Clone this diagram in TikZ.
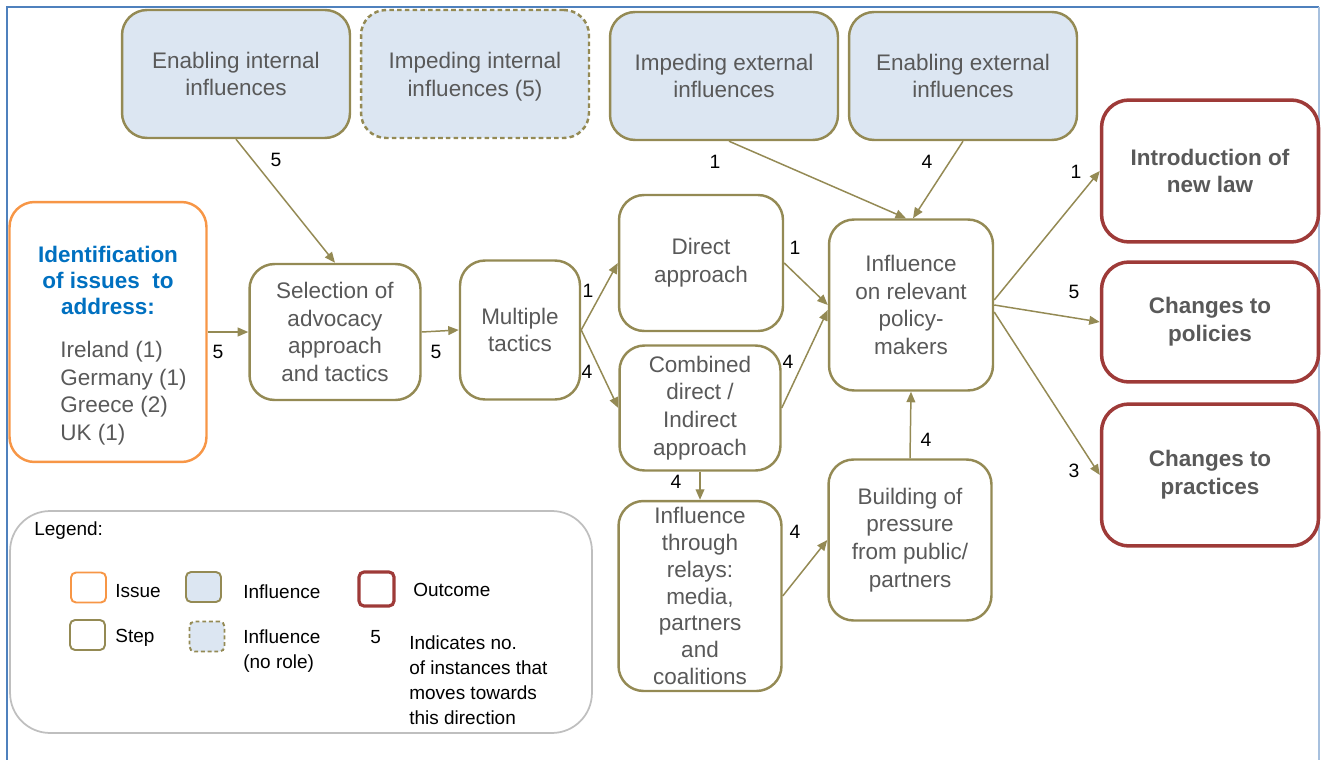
\documentclass[tikz,border=0pt]{standalone}
\usepackage{fontspec}
\setmainfont{Liberation Sans}
\usetikzlibrary{arrows.meta}

\definecolor{stepolive}{HTML}{948A54}
\definecolor{inflblue}{HTML}{DCE6F2}
\definecolor{outred}{HTML}{9E3A38}
\definecolor{issueorange}{HTML}{F79646}
\definecolor{titleblue}{HTML}{0070C0}
\definecolor{txtgray}{HTML}{595959}
\definecolor{framebl}{HTML}{4F81BD}
\definecolor{leggray}{HTML}{BFBFBF}

\newcommand{\boxfont}{\fontsize{12.8}{15.8}\selectfont}
\newcommand{\numfont}{\fontsize{11}{13}\selectfont}
\newcommand{\legfont}{\fontsize{10.8}{14.2}\selectfont}

\tikzset{
  box/.style={draw=stepolive, line width=1.4pt, rounded corners=0.5cm, align=center,
    font=\boxfont, text=txtgray, inner sep=1pt},
  stepbox/.style={box, fill=white},
  inflbox/.style={box, fill=inflblue, minimum width=4.56cm, minimum height=2.56cm},
  noroleinfl/.style={inflbox, dash pattern=on 2.6pt off 1.8pt},
  outbox/.style={box, draw=outred, line width=2pt, rounded corners=0.55cm,
    font=\boxfont\bfseries, minimum width=4.34cm},
  issuebox/.style={box, draw=issueorange},
  conn/.style={draw=stepolive, line width=0.85pt, ->},
  num/.style={font=\numfont, inner sep=1pt},
  legsw/.style={draw, line width=1.1pt, rounded corners=0.1cm, minimum width=0.7cm,
    minimum height=0.6cm, inner sep=0pt},
  legtxt/.style={font=\legfont, anchor=west, align=left, inner sep=0pt}
}

\begin{document}
\begin{tikzpicture}[x=0.02cm, y=-0.02cm, >={Triangle[length=6pt,width=5pt]}]
\useasboundingbox (0,0) rectangle (1321,760);
% frame
\draw[framebl, line width=1.2pt] (7,760) -- (7,7) -- (1319,7);
\draw[framebl!50, line width=0.8pt] (1319,7) -- (1319,760);

% influences
\node[inflbox] (enint) at (236,74) {Enabling internal\\influences};
\node[noroleinfl, text depth=0pt] (impint) at (475,74) {Impeding internal\\influences (5)};
\node[inflbox] (impext) at (724,76) {Impeding external\\influences};
\node[inflbox] (enext) at (963,76) {Enabling external\\influences};

% issue
\node[issuebox, minimum width=3.94cm, minimum height=5.2cm] (issue) at (108,332) {};
\node[font=\fontsize{12.8}{14.8}\selectfont\bfseries, text=titleblue, align=center]
  (issuehead) at (108,280) {Identification\\of issues~ to\\address:};
\node[font=\fontsize{12.8}{15.7}\selectfont, text=txtgray, anchor=west, align=left, inner sep=0pt]
  (issuelist) at (60,393) {Ireland (1)\\Germany (1)\\Greece (2)\\UK (1)};

% steps
\node[stepbox, minimum width=3.42cm, minimum height=2.72cm] (sel) at (335,332)
  {Selection of\\advocacy\\approach\\and tactics};
\node[stepbox, minimum width=2.4cm, minimum height=2.78cm] (mult) at (520,330)
  {Multiple\\tactics};
\node[stepbox, minimum width=3.28cm, minimum height=2.72cm] (direct) at (701,263)
  {Direct\\approach};
\node[stepbox, minimum width=3.22cm, minimum height=2.5cm] (comb) at (700,408)
  {Combined\\direct /\\Indirect\\approach};
\node[stepbox, minimum width=3.26cm, minimum height=3.8cm, font=\fontsize{12.8}{15.3}\selectfont]
  (relay) at (700,596) {Influence\\through\\relays:\\media,\\partners\\and\\coalitions};
\node[stepbox, minimum width=3.28cm, minimum height=3.42cm] (policy) at (911,305)
  {Influence\\on relevant\\policy-\\makers};
\node[stepbox, minimum width=3.26cm, minimum height=3.22cm] (build) at (910,540)
  {Building of\\pressure\\from public/\\partners};

% outcomes
\node[outbox, minimum height=2.84cm] (law) at (1210,171) {Introduction of\\new law};
\node[outbox, minimum height=2.4cm] (pol) at (1210,322) {Changes to\\policies};
\node[outbox, minimum height=2.84cm] (prac) at (1210,475) {Changes to\\practices};

% connectors
\draw[conn] (issue) -- (sel);
\draw[conn] (sel.east) -- (mult.west);
\draw[conn] (mult.east) -- (direct.west);
\draw[conn] (mult.east) -- (comb.west);
\draw[conn] (direct.east) -- (policy.west);
\draw[conn] (comb.east) -- ([yshift=-0.1cm]policy.west);
\draw[conn] (comb.south) -- (relay.north);
\draw[conn] (relay.east) -- (build.west);
\draw[conn] (build.north) -- (policy.south);
\draw[conn] (enint.south) -- (sel.north);
\draw[conn] ([xshift=0.1cm]impext.south) -- ([xshift=-0.1cm]policy.north);
\draw[conn] (enext.south) -- ([xshift=0.04cm]policy.north);
\draw[conn] ([yshift=0.1cm]policy.east) -- (law.west);
\draw[conn] (policy.east) -- (pol.west);
\draw[conn] ([yshift=-0.14cm]policy.east) -- (prac.west);

% counts
\node[num] (c1) at (218,352) {5};
\node[num] (c2) at (436,352) {5};
\node[num] (c3) at (588,291) {1};
\node[num] (c4) at (587,372) {4};
\node[num] (c5) at (795,248) {1};
\node[num] (c6) at (788,362) {4};
\node[num] (c7) at (676,482) {4};
\node[num] (c8) at (795,532) {4};
\node[num] (c9) at (926,440) {4};
\node[num] (c10) at (276,160) {5};
\node[num] (c11) at (715,162) {1};
\node[num] (c12) at (927,162) {4};
\node[num] (c13) at (1076,172) {1};
\node[num] (c14) at (1074,292) {5};
\node[num] (c15) at (1074,471) {3};

% legend
\node[draw=leggray, line width=1pt, rounded corners=0.8cm, minimum width=11.64cm,
  minimum height=4.44cm] (legend) at (301,622) {};
\node[legtxt] (legtitle) at (34,531) {Legend:};
\node[legsw, draw=issueorange] (legissue) at (88.5,587.5) {};
\node[legtxt] (legissuet) at (115,591) {Issue};
\node[legsw, draw=stepolive, fill=inflblue] (leginfl) at (203.5,587) {};
\node[legtxt] (leginflt) at (243,592) {Influence};
\node[legsw, draw=outred, line width=1.8pt, minimum height=0.68cm] (legout) at (376.5,589) {};
\node[legtxt] (legoutt) at (413,590) {Outcome};
\node[legsw, draw=stepolive] (legstep) at (87.5,635) {};
\node[legtxt] (legstept) at (115,638) {Step};
\node[legsw, draw=stepolive, fill=inflblue, dash pattern=on 2.2pt off 1.6pt] (legnorole) at (207,636.5) {};
\node[legtxt, text depth=0pt] (legnorolet) at (243,649) {Influence\\(no role)};
\node[legtxt] (legnum) at (370,637) {5};
\node[legtxt] (legnumt) at (409,680.5) {Indicates no.\\of instances that\\moves towards\\this direction};
\end{tikzpicture}
\end{document}
